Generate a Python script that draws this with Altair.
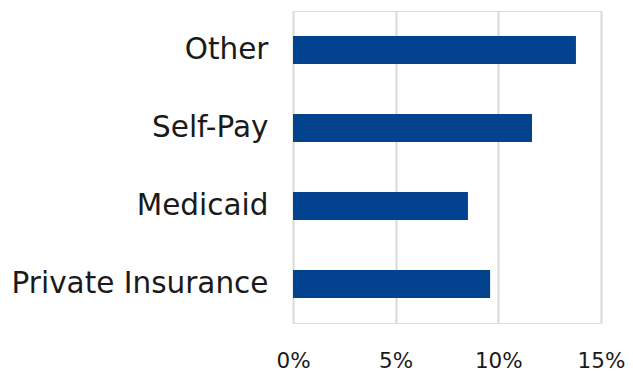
import altair as alt
import pandas as pd

categories = ["Other", "Self-Pay", "Medicaid", "Private Insurance"]
values = [0.1378, 0.1164, 0.0852, 0.0960]
tick_values = [0, 0.05, 0.10, 0.15]

df = pd.DataFrame({"category": categories, "value": values})

FONT = "DejaVu Sans"

chart = alt.Chart(df).mark_bar(color="#02428f").encode(
    x=alt.X("value:Q",
            scale=alt.Scale(domain=[0, 0.15], nice=False, zero=True),
            axis=alt.Axis(format=".0%", values=tick_values, title=None,
                          ticks=False, domain=False, grid=True, gridColor="#d9d9d9",
                          gridWidth=2, labelFont=FONT, labelFontSize=21.5,
                          labelColor="#1a1a1a", labelPadding=27,
                          labelFlush=False, labelOverlap=False)),
    y=alt.Y("category:N", sort=categories,
            scale=alt.Scale(paddingInner=0.64, paddingOuter=0.32),
            axis=alt.Axis(title=None, ticks=False, domain=False, labelFont=FONT,
                          labelFontSize=29.5, labelColor="#1a1a1a", labelPadding=25,
                          labelLimit=400)),
).properties(
    width=308, height=312,
    autosize=alt.AutoSizeParams(type="none"),
    padding={"left": 285, "top": 3, "right": 24, "bottom": 58},
).configure_view(stroke=None).configure(background="white")

chart.save("out.html", embed_options={"renderer": "svg", "actions": False})
